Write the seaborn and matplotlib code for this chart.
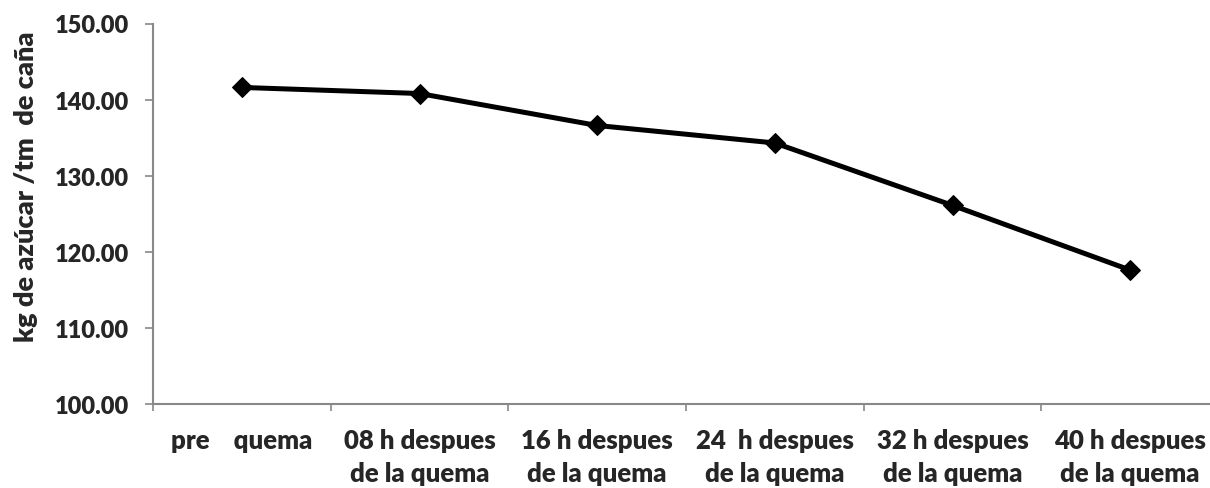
import pandas as pd
import numpy as np
import matplotlib.pyplot as plt
import seaborn as sns

# --- data ---
categories = ['pre    quema', '08 h despues\nde la quema', '16 h despues\nde la quema',
              '24  h despues\nde la quema', '32 h despues\nde la quema', '40 h despues\nde la quema']
sugar_kg = [141.6, 140.8, 136.6, 134.3, 126.1, 117.6]
y_ticks = [100, 110, 120, 130, 140, 150]

df = pd.DataFrame({'etapa': categories, 'azucar': sugar_kg})

sns.set_style('white')
plt.rcParams['font.family'] = ['Lato', 'DejaVu Sans']
plt.rcParams['font.weight'] = 'heavy'

axis_gray = '#888888'
wt = 'heavy'

fig = plt.figure(figsize=(12.1, 4.89), dpi=100)
ax = fig.add_axes([153/1210, 1 - 405/489, 1066/1210, (405 - 24.5)/489])

sns.lineplot(data=df, x='etapa', y='azucar', ax=ax, color='black', lw=3.6,
             marker='D', markersize=10, markeredgecolor='black', sort=False)

ax.set_xlim(-0.5, len(categories) - 0.5)
ax.set_ylim(100, 150)
ax.set_yticks(y_ticks)
ax.set_yticklabels([f'{v:.2f}' for v in y_ticks])

# category ticks sit between categories, labels centred on each category
ax.set_xticks(np.arange(len(categories)) - 0.5)
ax.set_xticklabels([])
ax.set_xticks(np.arange(len(categories)), minor=True)
ax.set_xticklabels(categories, minor=True, linespacing=1.45)
ax.tick_params(axis='x', which='minor', length=0, pad=17, labelsize=18.5)
ax.tick_params(axis='x', which='major', direction='out', length=5, width=1.2,
               color=axis_gray, bottom=True)
ax.tick_params(axis='y', direction='out', length=5.5, width=1.2, color=axis_gray,
               left=True, pad=12, labelsize=17)
for lab in ax.get_xticklabels(minor=True) + ax.get_yticklabels():
    lab.set_fontweight(wt)

for side in ['top', 'right']:
    ax.spines[side].set_visible(False)
for side in ['left', 'bottom']:
    ax.spines[side].set_color(axis_gray)
    ax.spines[side].set_linewidth(1.5)

ax.set_xlabel('')
ax.set_ylabel('')
fig.text(26/1210, 1 - 187/489, 'kg de azúcar /tm  de caña', rotation=90,
         ha='center', va='center', fontsize=19.5, fontweight=wt)

plt.savefig('out.png', dpi=100)
plt.close()
